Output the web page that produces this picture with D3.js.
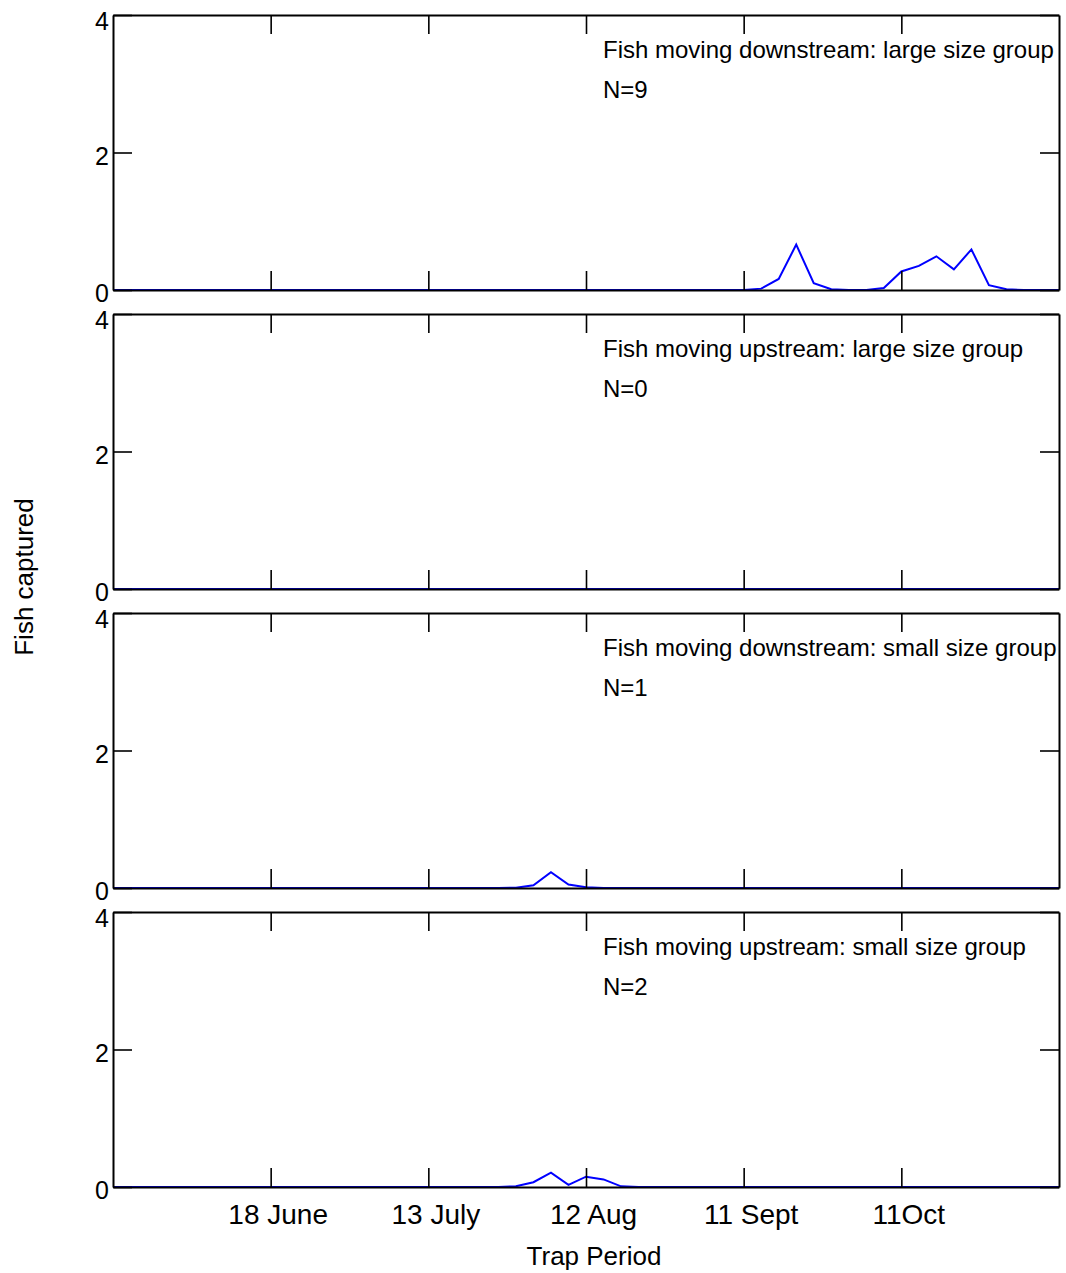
<!DOCTYPE html>
<html><head><meta charset="utf-8">
<script src="https://cdn.jsdelivr.net/npm/d3@7"></script>
<style>body{margin:0;background:#fff}svg{display:block}text{font-family:"Liberation Sans",Arial,sans-serif;fill:#000}</style>
</head><body>
<svg id="c" width="1066" height="1273"></svg>
<script>
// Trap period index 0..54
const periods = [0,1,2,3,4,5,6,7,8,9,10,11,12,13,14,15,16,17,18,19,20,21,22,23,24,25,26,27,28,29,30,31,32,33,34,35,36,37,38,39,40,41,42,43,44,45,46,47,48,49,50,51,52,53,54];
const downLarge = [0,0,0,0,0,0,0,0,0,0, 0,0,0,0,0,0,0,0,0,0, 0,0,0,0,0,0,0,0,0,0, 0,0,0,0,0,0,0,0.02,0.16,0.66, 0.1,0.01,0,0,0.03,0.27,0.35,0.49,0.3,0.59, 0.07,0.01,0,0,0];
const upLarge = [0,0,0,0,0,0,0,0,0,0, 0,0,0,0,0,0,0,0,0,0, 0,0,0,0,0,0,0,0,0,0, 0,0,0,0,0,0,0,0,0,0, 0,0,0,0,0,0,0,0,0,0, 0,0,0,0,0];
const downSmall = [0,0,0,0,0,0,0,0,0,0, 0,0,0,0,0,0,0,0,0,0, 0,0,0,0.005,0.04,0.23,0.05,0.01,0,0, 0,0,0,0,0,0,0,0,0,0, 0,0,0,0,0,0,0,0,0,0, 0,0,0,0,0];
const upSmall = [0,0,0,0,0,0,0,0,0,0, 0,0,0,0,0,0,0,0,0,0, 0,0,0,0.01,0.07,0.21,0.03,0.15,0.11,0.01, 0,0,0,0,0,0,0,0,0,0, 0,0,0,0,0,0,0,0,0,0, 0,0,0,0,0];
const panelTitles = ["Fish moving downstream: large size group","Fish moving upstream: large size group","Fish moving downstream: small size group","Fish moving upstream: small size group"];
const panelN = ["N=9","N=0","N=1","N=2"];
const xTickPeriods = [9,18,27,36,45];
const xTickLabels = ["18 June","13 July","12 Aug","11 Sept","11Oct"];
const yTicks = [0,2,4];
const xTitle = "Trap Period";
const yTitle = "Fish captured";

const series = [downLarge, upLarge, downSmall, upSmall];
const svg = d3.select("#c");
const left = 113, right = 1059, panelH = 275, firstTop = 15, step = 299;
const x = d3.scaleLinear().domain([0,54]).range([left,right]);
const tickLen = 19;

series.forEach((vals,i)=>{
  const top = firstTop + i*step, bottom = top + panelH;
  const y = d3.scaleLinear().domain([0,4]).range([bottom,top]);
  const g = svg.append("g");
  g.append("path")
    .datum(periods.map((p,k)=>[p,vals[k]]))
    .attr("fill","none").attr("stroke","#0000ff").attr("stroke-width",2)
    .attr("stroke-linejoin","miter")
    .attr("d", d3.line().x(d=>x(d[0])).y(d=>y(d[1])));
  const bottomAx = g.append("g").attr("transform",`translate(0,${bottom})`)
    .call(d3.axisBottom(x).tickValues(xTickPeriods).tickSizeInner(-tickLen).tickSizeOuter(0)
      .tickFormat((d,k)=> i===3 ? xTickLabels[k] : ""));
  const topAx = g.append("g").attr("transform",`translate(0,${top})`)
    .call(d3.axisTop(x).tickValues(xTickPeriods).tickSizeInner(-tickLen).tickSizeOuter(0).tickFormat(""));
  const leftAx = g.append("g").attr("transform",`translate(${left},0)`)
    .call(d3.axisLeft(y).tickValues(yTicks).tickSizeInner(-tickLen).tickSizeOuter(0).tickFormat(d3.format("d")));
  const rightAx = g.append("g").attr("transform",`translate(${right},0)`)
    .call(d3.axisRight(y).tickValues(yTicks).tickSizeInner(-tickLen).tickSizeOuter(0).tickFormat(""));
  [bottomAx,topAx,leftAx,rightAx].forEach(a=>{
    a.select(".domain").attr("stroke","#000").attr("stroke-width",2);
    a.selectAll(".tick line").attr("stroke","#000").attr("stroke-width",1.6);
  });
  leftAx.selectAll(".tick text").attr("x",-4).attr("dy",null)
    .attr("y",d=> d===0 ? 11 : (d===4 ? 14 : 12))
    .style("font-size","25px").attr("font-family",null);
  if(i===3){
    bottomAx.selectAll(".tick text").attr("dx",7).attr("y",0).attr("dy",null)
      .attr("transform","translate(0,37)").style("font-size","28px").attr("font-family",null);
  }
  g.append("text").attr("x",603).attr("y",top+43).style("font-size","24px").text(panelTitles[i]);
  g.append("text").attr("x",603).attr("y",top+83).style("font-size","24px").text(panelN[i]);
});

svg.append("text").attr("x",594).attr("y",1265).attr("text-anchor","middle")
  .style("font-size","26px").text(xTitle);
svg.append("text").attr("transform","translate(33,577) rotate(-90)").attr("text-anchor","middle")
  .style("font-size","26px").text(yTitle);
</script>
</body></html>
